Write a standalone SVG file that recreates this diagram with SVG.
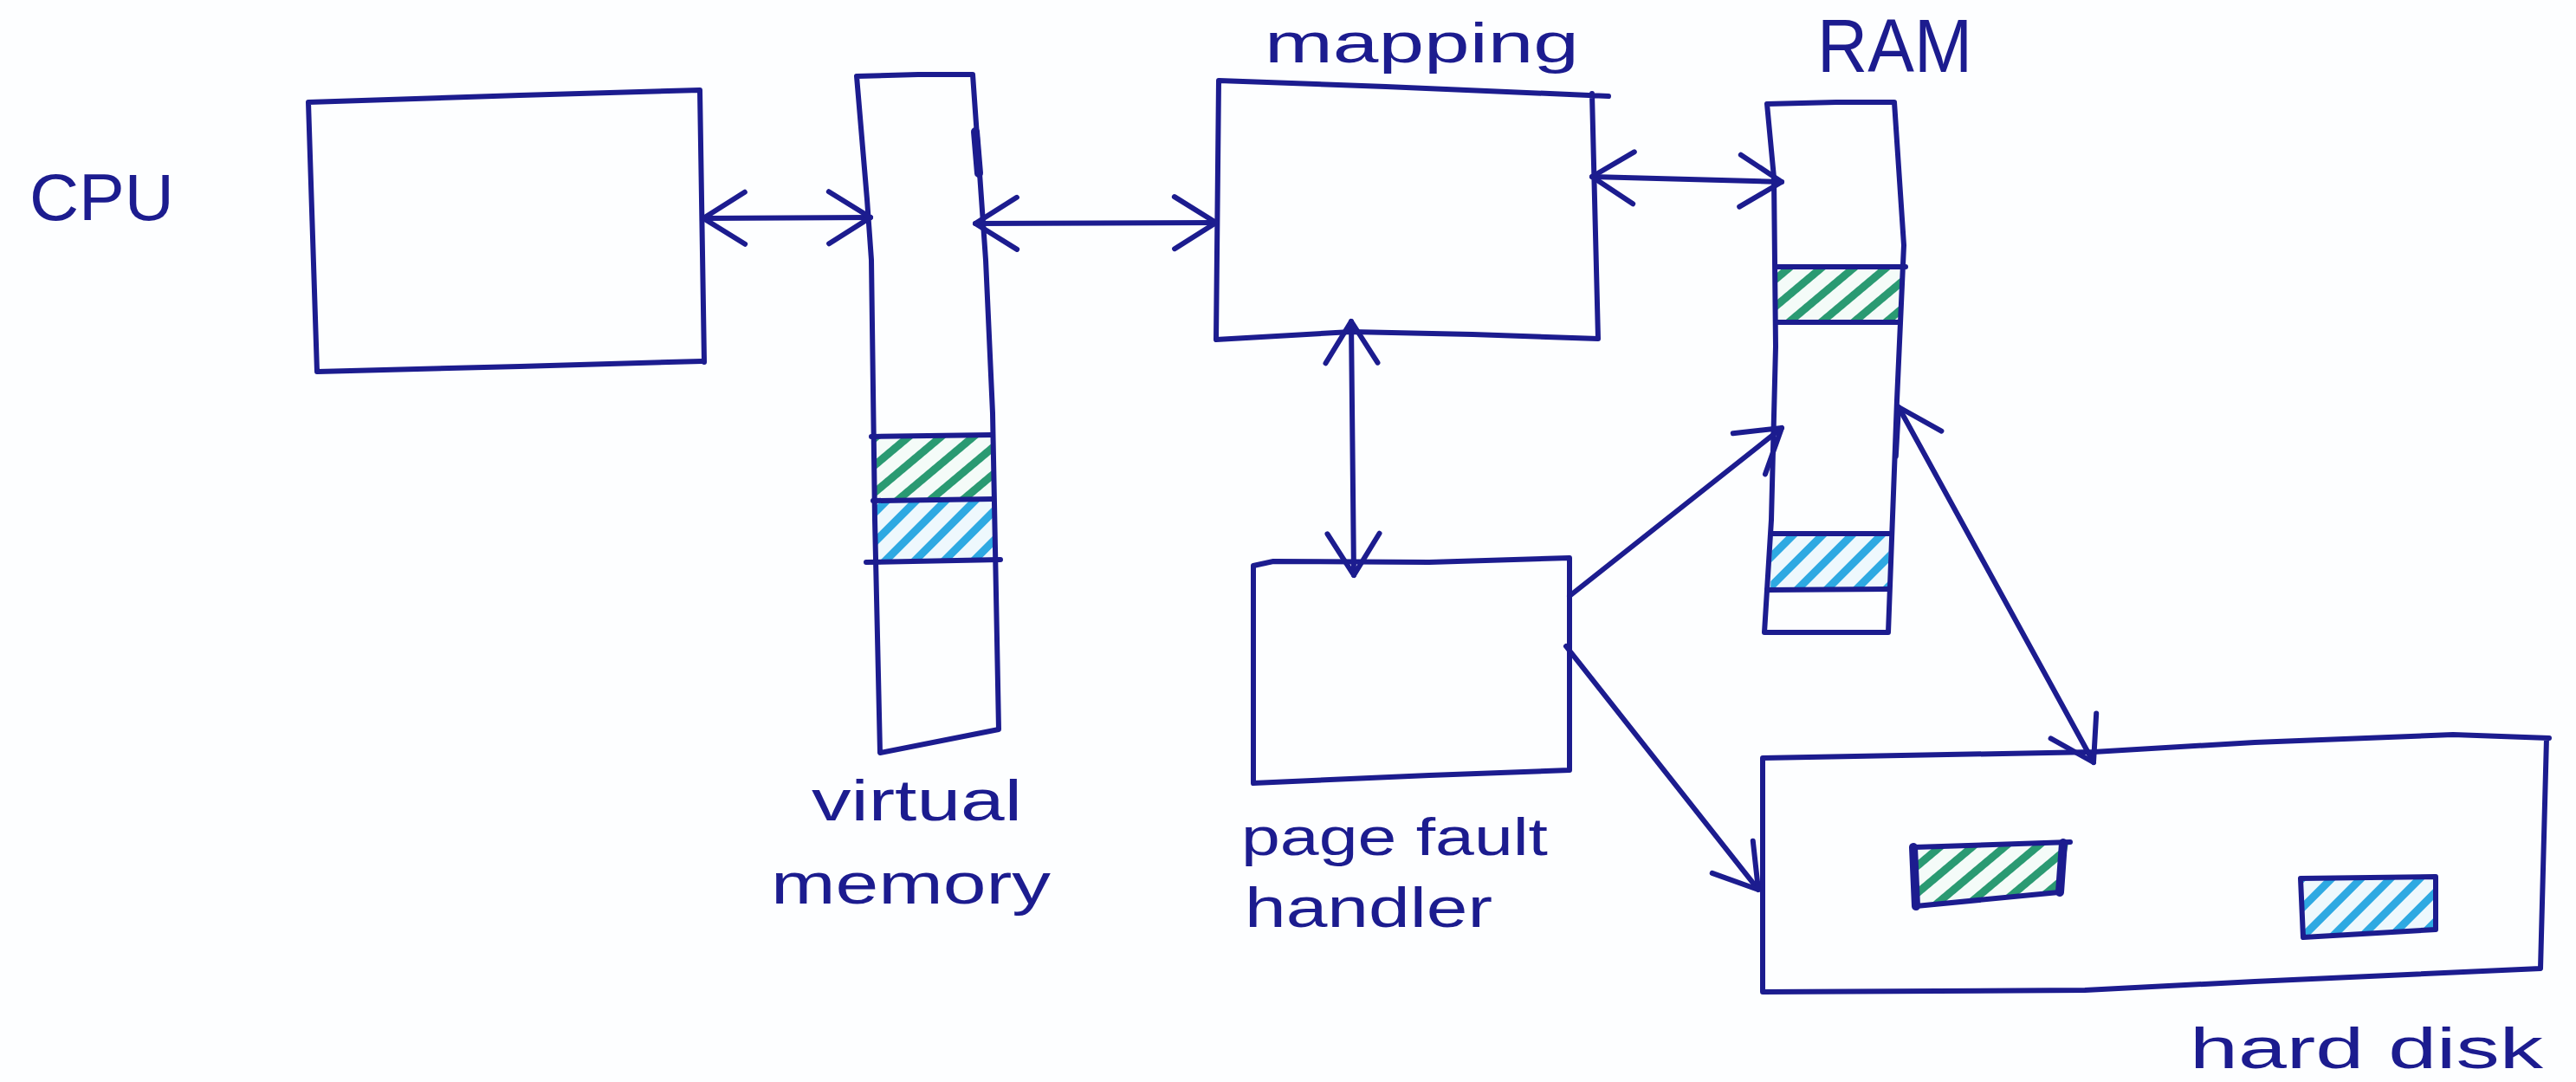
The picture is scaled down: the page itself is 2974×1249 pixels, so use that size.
<svg xmlns="http://www.w3.org/2000/svg" width="2974" height="1249" viewBox="0 0 2974 1249">
<style>
.ink{fill:none;stroke:#1c1c8f;stroke-width:6;stroke-linecap:round;stroke-linejoin:round}
.thick{fill:none;stroke:#1c1c8f;stroke-width:10;stroke-linecap:round;stroke-linejoin:round}
.lbl{font-family:"Liberation Sans",Arial,sans-serif;fill:#1c1c8f}
.conn{fill:none;stroke:#1c1c8f;stroke-width:6;stroke-linecap:round}
</style>
<defs>
<pattern id="hatchG" patternUnits="userSpaceOnUse" width="24" height="24" patternTransform="rotate(-40)">
<rect width="24" height="24" fill="#f4fbf8"/>
<rect y="0" width="24" height="9" fill="#2a9a72"/>
</pattern>
<pattern id="hatchB" patternUnits="userSpaceOnUse" width="24" height="24" patternTransform="rotate(-45)">
<rect width="24" height="24" fill="#eef8fd"/>
<rect y="0" width="24" height="9" fill="#2ea9e2"/>
</pattern>
<marker id="ah" markerUnits="userSpaceOnUse" markerWidth="80" markerHeight="80" viewBox="-60 -40 70 80" refX="0" refY="0" orient="auto-start-reverse" overflow="visible">
<path d="M-48,-30 L0,0 L-48,30" fill="none" stroke="#1c1c8f" stroke-width="6" stroke-linecap="round" stroke-linejoin="round"/>
</marker>
</defs>
<rect width="2974" height="1249" fill="#fdfeff"/>

<g id="cpu">
<path class="ink" d="M356,118 L600,110 L808,104 L813,418 M810,417 L600,423 L366,429 L356,118"/>
<text class="lbl" x="34" y="254" font-size="76" textLength="167" lengthAdjust="spacingAndGlyphs">CPU</text>
</g>

<g id="virtual-memory">
<path d="M1008,505 L1145,503 L1147,577 L1009,578 Z" fill="url(#hatchG)"/>
<path d="M1009,578 L1147,577 L1149,647 L1010,648 Z" fill="url(#hatchB)"/>
<path class="ink" d="M989,88 L1060,86 L1123,86 L1138,300 L1146,477 L1153,842 L1016,869 L1010,600 L1006,300 L1001,230 L989,88"/>
<path class="ink" d="M1006,504 L1145,502"/>
<path class="ink" d="M1008,578 L1147,576"/>
<path class="ink" d="M1000,649 L1155,646"/>
<path class="thick" d="M1126,152 L1130,200"/>
<text class="lbl" x="937" y="947" font-size="66" textLength="243" lengthAdjust="spacingAndGlyphs">virtual</text>
<text class="lbl" x="890" y="1043" font-size="66" textLength="323" lengthAdjust="spacingAndGlyphs">memory</text>
</g>

<g id="mapping">
<path class="ink" d="M1407,93 L1600,100 L1857,111 M1838,108 L1845,391 L1700,386 L1560,383 L1404,392 L1407,93"/>
<text class="lbl" x="1460" y="72" font-size="64" textLength="363" lengthAdjust="spacingAndGlyphs">mapping</text>
</g>

<g id="ram">
<path d="M2050,309 L2198,308 L2193,371 L2050,372 Z" fill="url(#hatchG)"/>
<path d="M2046,617 L2181,616 L2180,680 L2044,681 Z" fill="url(#hatchB)"/>
<path class="ink" d="M2040,120 L2120,118 L2187,118 L2198,283 L2190,462 L2180,730 L2037,730 L2045,600 L2050,400 L2048,205 L2040,120"/>
<path class="ink" d="M2050,308 L2200,308"/>
<path class="ink" d="M2050,372 L2192,372"/>
<path class="ink" d="M2046,616 L2181,616"/>
<path class="ink" d="M2040,681 L2180,680"/>
<text class="lbl" x="2098" y="83" font-size="88" textLength="179" lengthAdjust="spacingAndGlyphs">RAM</text>
</g>

<g id="page-fault-handler">
<path class="ink" d="M1447,653 L1470,648 L1650,649 L1812,644 L1812,889 L1650,895 L1447,904 L1447,653"/>
<text class="lbl" x="1433" y="987" font-size="62" textLength="354" lengthAdjust="spacingAndGlyphs">page fault</text>
<text class="lbl" x="1437" y="1070" font-size="64" textLength="286" lengthAdjust="spacingAndGlyphs">handler</text>
</g>

<g id="hard-disk">
<path class="ink" d="M2035,875 L2417,868 L2603,857 L2832,848 L2943,852 M2940,852 L2933,1118 L2603,1133 L2407,1143 L2035,1145 L2035,875"/>
<path d="M2210,978 L2388,973 L2377,1030 L2212,1046 Z" fill="url(#hatchG)"/>
<path class="ink" d="M2210,978 L2390,972 M2377,1030 L2212,1046"/>
<path class="thick" d="M2209,978 L2212,1046 M2382,973 L2378,1030"/>
<path d="M2656,1014 L2812,1012 L2812,1073 L2659,1082 Z" fill="url(#hatchB)"/>
<path class="ink" d="M2656,1014 L2812,1012 L2812,1073 L2659,1082 Z"/>
<text class="lbl" x="2528" y="1233" font-size="66" textLength="408" lengthAdjust="spacingAndGlyphs">hard disk</text>
</g>

<g id="connectors">
<path class="conn" d="M812,252 L1005,251" marker-start="url(#ah)" marker-end="url(#ah)"/>
<path class="conn" d="M1126,258 L1404,257" marker-start="url(#ah)" marker-end="url(#ah)"/>
<path class="conn" d="M1838,204 L2057,210" marker-start="url(#ah)" marker-end="url(#ah)"/>
<path class="conn" d="M1560,371 L1563,664" marker-start="url(#ah)" marker-end="url(#ah)"/>
<path class="conn" d="M1812,688 L2057,494" marker-end="url(#ah)"/>
<path class="conn" d="M1808,746 L2030,1027" marker-end="url(#ah)"/>
<path class="conn" d="M2192,470 L2417,880" marker-start="url(#ah)" marker-end="url(#ah)"/>
</g>
</svg>
